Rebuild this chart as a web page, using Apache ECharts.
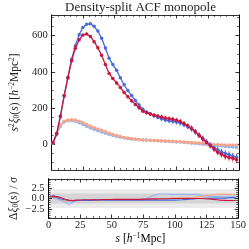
<!DOCTYPE html>
<html><head><meta charset="utf-8">
<script src="https://cdn.jsdelivr.net/npm/echarts@6/dist/echarts.min.js"></script>
<style>html,body{margin:0;padding:0;background:#fff}#c{width:249px;height:249px}</style>
</head><body><div id="c"></div>
<script>
// ---- data ----
const s = [1,4,7,10,13,16,19,22,25,28,31,34,37,40,43,46,49,52,55,58,61,64,67,70,73,76,79,82,85,88,91,94,97,100,103,106,109,112,115,118,121,124,127,130,133,136,139,142,145,148];
const ds1 = [6,55,150,265,370,470,545,606,646,664,666,652,626,586,532,475,440,408,367,328,296,268,241,215,192,176,166,156,148,139,133,128,125,121,116,106,95,82,66,48,30,12,-5,-20,-33,-45,-53,-60,-68,-74];
const ds5 = [6,57,154,268,366,461,531,578,604,610,596,567,533,491,441,391,362,338,313,285,262,239,219,200,181,173,166,159,154,149,143,140,136,131,124,113,100,87,68,48,27,7,-10,-28,-46,-58,-69,-75,-80,-88];
const ds2 = [4,50,98,121,128,129,125,117,107,97,88,80,73,66,59,52,46,41,37,33,30,27,25,23,21,20,19,18,17,16,15,14,12,11,10,8,6,4,2,0,-2,-4,-6,-8,-10,-12,-14,-16,-18,-20];
const ds4 = [5,55,104,126,132,134,132,126,117,108,98,90,83,76,67,59,52,46,41,36,32,29,26,24,22,21,20,19,18,17,16,15,14,13,12,11,9,8,6,5,3,1,-1,-3,-4,-5,-6,-6,-6,-6];
const errBig = [2,3,3,4,4,4,5,5,5,5,6,6,6,6,7,7,7,8,8,8,9,9,9,10,10,10,11,11,12,12,12,13,13,13,14,14,14,15,15,15,16,16,16,17,17,17,18,18,18,19];
const errSmall = [1,1,2,2,2,2,2,2,3,3,3,3,3,3,3,3,3,3,3,3,3,3,3,3,3,3,3,3,3,3,3,3,3,3,3,3,3,3,3,3,3,3,3,3,3,3,3,3,3,3];
const res1 = [0.3,0.8,0.2,-0.1,-0.3,-0.5,-0.6,-0.5,-0.5,-0.5,-0.5,-0.5,-0.4,-0.4,-0.4,-0.4,-0.4,-0.4,-0.4,-0.4,-0.4,-0.4,-0.4,-0.4,-0.4,-0.4,-0.4,-0.4,-0.4,-0.4,-0.4,-0.4,-0.4,-0.4,-0.35,-0.3,-0.2,-0.15,-0.1,0,0,0.05,0.05,0.1,0.1,0.1,0.1,0.15,0.2,0.2];
const res5 = [0.5,0.4,0.5,0.2,-0.2,-0.4,-0.5,-0.4,-0.35,-0.3,-0.3,-0.3,-0.3,-0.3,-0.25,-0.25,-0.25,-0.2,-0.2,-0.2,-0.2,-0.2,-0.2,-0.2,-0.2,-0.15,-0.15,-0.1,-0.1,-0.05,-0.05,-0.05,0,0,0,0,0,0,0,0,0,-0.05,-0.1,-0.2,-0.3,-0.4,-0.45,-0.5,-0.5,-0.5];
const res2 = [0.5,0.1,-0.2,-0.5,-0.9,-1.4,-1.0,-0.5,-0.3,-0.3,-0.3,-0.3,-0.3,-0.3,-0.3,-0.3,-0.3,-0.3,-0.3,-0.3,-0.3,-0.3,-0.3,-0.3,-0.2,-0.1,0.2,0.6,0.9,1.1,1.1,1.1,1.0,1.0,1.0,1.0,1.0,1.0,1.0,1.0,0.8,0.6,0.5,0.5,0.5,0.5,0.4,0.4,0.4,0.4];
const res4 = [0.6,0.2,0.3,-0.3,-0.6,-0.7,-0.5,-0.5,-0.5,-0.5,-0.5,-0.5,-0.5,-0.5,-0.5,-0.5,-0.5,-0.5,-0.5,-0.5,-0.5,-0.5,-0.5,-0.5,-0.5,-0.45,-0.4,-0.3,-0.2,-0.1,-0.1,0,0.1,0.1,0.15,0.2,0.2,0.25,0.3,0.4,0.5,0.7,0.8,0.9,1.0,1.0,1.0,1.0,0.95,0.9];
const yTicksMain = [0,200,400,600];
const yMinorMain = [-100,-50,50,100,150,250,300,350,450,500,550,650,700];
const yTicksRes = [-2.5,0,2.5];
const yMinorRes = [-4.5,-4,-3.5,-3,-2,-1.5,-1,-0.5,0.5,1,1.5,2,3,3.5,4,4.5];
const bands = [[-2.3,2.3],[-1.2,1.2]];

const C1='#4a6ad9', C5='#c8173f', C2='#93b4f7', C4='#f5a487';
const FONT='Liberation Serif';
const pairs = a => s.map((x,i)=>[x,a[i]]);
const errData = (a,e) => s.map((x,i)=>[x,a[i]-e[i],a[i]+e[i]]);

function errSeries(a,e,color){
  return {type:'custom', xAxisIndex:0, yAxisIndex:0, silent:true, z:1,
    data: errData(a,e),
    renderItem:(p,api)=>{
      const lo=api.coord([api.value(0),api.value(1)]);
      const hi=api.coord([api.value(0),api.value(2)]);
      return {type:'line', shape:{x1:lo[0],y1:lo[1],x2:hi[0],y2:hi[1]}, style:{stroke:color,lineWidth:1}};
    }};
}
function lineSeries(a,color,z){
  return {type:'line', xAxisIndex:0, yAxisIndex:0, data:pairs(a), z:z,
    symbol:'circle', symbolSize:3.5, showSymbol:true,
    itemStyle:{color:color}, lineStyle:{color:color,width:1.3}};
}
function resSeries(a,color,z){
  return {type:'line', xAxisIndex:2, yAxisIndex:4, data:pairs(a), z:z, showSymbol:false,
    lineStyle:{color:color,width:1.1}};
}
function xAx(grid,pos,labels){
  return {type:'value', gridIndex:grid, position:pos, min:0, max:150, interval:25,
    axisLine:{show:true,onZero:false,lineStyle:{color:'#000',width:0.8}},
    axisTick:{show:true,inside:true,length:3.5,lineStyle:{color:'#000',width:0.8}},
    minorTick:{show:true,splitNumber:5,length:2,lineStyle:{color:'#000',width:0.6}},
    axisLabel:{show:labels,fontFamily:FONT,fontSize:10.5,color:'#222',margin:2},
    splitLine:{show:false}};
}
function yAx(grid,pos,min,max,ticks,labels,len,extra){
  return Object.assign({type:'value', gridIndex:grid, position:pos, min:min, max:max,
    axisLine:{show:true,onZero:false,lineStyle:{color:'#000',width:0.8}},
    axisTick:{show:true,inside:true,length:len,customValues:ticks,lineStyle:{color:'#000',width:len>3?0.8:0.6}},
    axisLabel:{show:labels,customValues:ticks,fontFamily:FONT,fontSize:10.5,color:'#222',margin:4,
      formatter:v=> (grid===1 ? (v<0?'\u2212':'')+Math.abs(v).toFixed(1) : String(v))},
    splitLine:{show:false}}, extra||{});
}
const rich = {
  i:{fontFamily:FONT,fontStyle:'italic',fontSize:11.5,color:'#222',lineHeight:13},
  n:{fontFamily:FONT,fontSize:11.5,color:'#222',lineHeight:13},
  sup:{fontFamily:FONT,fontSize:7.5,color:'#222',verticalAlign:'top',lineHeight:13},
  sub:{fontFamily:FONT,fontSize:7.5,color:'#222',verticalAlign:'bottom',lineHeight:13}
};

const option = {
  animation:false,
  title:{text:'Density-split ACF monopole', left:140.5, textAlign:'center', top:1, padding:0,
    textStyle:{fontFamily:FONT,fontSize:13,fontWeight:'normal',color:'#222'}},
  grid:[{left:42,right:10,top:15,height:155},{left:42,right:10,top:179,height:39}],
  xAxis:[xAx(0,'bottom',false), xAx(0,'top',false), xAx(1,'bottom',true), xAx(1,'top',false)],
  yAxis:[
    yAx(0,'left',-145,715,yTicksMain,true,3.5,{name:'{i|s}{sup|2}{i|ξ}{sub|0}{n|(}{i|s}{n|) [}{i|h}{sup|−2}{n|Mpc}{sup|2}{n|]}',nameLocation:'middle',nameGap:27,nameTextStyle:{rich:rich}}),
    yAx(0,'right',-145,715,yTicksMain,false,3.5),
    yAx(0,'left',-145,715,yMinorMain,false,2),
    yAx(0,'right',-145,715,yMinorMain,false,2),
    yAx(1,'left',-4.7,4.7,[yTicksRes[1]],true,3.5,{name:'{n|Δ}{i|ξ}{sub|0}{n|(}{i|s}{n|) / }{i|σ}',nameLocation:'middle',nameGap:27,nameTextStyle:{rich:rich}}),
    yAx(1,'right',-4.7,4.7,yTicksRes,false,3.5),
    yAx(1,'left',-4.7,4.7,yMinorRes,false,2),
    yAx(1,'right',-4.7,4.7,yMinorRes,false,2),
    yAx(1,'left',-4.7,4.7,[yTicksRes[0]],true,3.5),
    yAx(1,'left',-4.7,4.7,[yTicksRes[2]],true,3.5)
  ],
  graphic:[{type:'text', x:140.5, y:239, style:{text:'{i|s}{n| [}{i|h}{sup|−1}{n|Mpc]}', rich:rich, align:'center', verticalAlign:'middle'}}],
  series:[
    {type:'custom', xAxisIndex:2, yAxisIndex:4, silent:true, z:0, data:bands.map((b,i)=>[b[0],b[1],i]),
      renderItem:(p,api)=>{
        const lo=api.coord([0,api.value(0)]), hi=api.coord([150,api.value(1)]);
        return {type:'rect', shape:{x:lo[0],y:hi[1],width:hi[0]-lo[0],height:lo[1]-hi[1]},
          style:{fill: api.value(2)===0?'#ebebeb':'#d5d5d5'}};
      }},
    errSeries(ds2,errSmall,C2), errSeries(ds4,errSmall,C4),
    lineSeries(ds2,C2,2), lineSeries(ds4,C4,3),
    errSeries(ds1,errBig,C1), errSeries(ds5,errBig,C5),
    lineSeries(ds1,C1,4), lineSeries(ds5,C5,5),
    resSeries(res2,C2,2), resSeries(res4,C4,3), resSeries(res1,C1,4), resSeries(res5,C5,5)
  ]
};
const chart = echarts.init(document.getElementById('c'), null, {renderer:'canvas'});
chart.setOption(option);
</script></body></html>
